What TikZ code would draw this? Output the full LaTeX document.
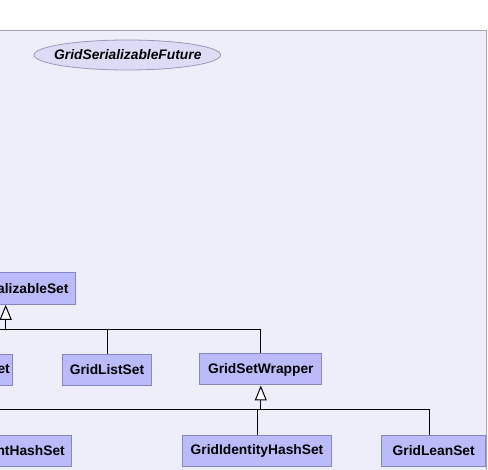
\documentclass[tikz,border=0pt]{standalone}
\usepackage{fontspec}
\setmainfont{Liberation Sans}
\usetikzlibrary{arrows.meta}
\definecolor{pkgfill}{HTML}{EEEEFB}
\definecolor{pkgline}{HTML}{A4A4B4}
\definecolor{clsfill}{HTML}{BBBBFA}
\definecolor{clsline}{HTML}{8585C8}
\definecolor{iffill}{HTML}{DCDCF7}
\definecolor{ifline}{HTML}{9898B8}
\tikzset{
    cls/.style={draw=clsline, fill=clsfill, line width=1pt, minimum height=31pt, inner xsep=7pt, font=\fontsize{13.8}{16}\selectfont\bfseries},
    iface/.style={draw=ifline, fill=iffill, line width=.8pt},
    ifacename/.style={inner sep=0pt, font=\fontsize{13.8}{16}\selectfont\bfseries\itshape},
    link/.style={line width=1pt},
    inherit/.style={line width=1pt, -{Triangle[width=12pt,length=15pt,fill=white]}}
}
\begin{document}
\begin{tikzpicture}[x=1pt,y=-1pt]
    \useasboundingbox (0,0) rectangle (488,470);
    \clip (0,0) rectangle (488,470);

    % package background
    \draw[pkgline, fill=pkgfill, line width=1pt] (-20,30.5) rectangle (486.5,520);

    % interface
    \draw[iface] (127.3,55) ellipse [x radius=93.3, y radius=15];
    \node[ifacename] (sfut) at (127.8,54.5) {GridSerializableFuture};

    % first level
    \node[cls, anchor=east, inner xsep=6.7pt, minimum height=32pt] (sset) at (75.7,288.3) {GridSerializableSet};

    % second level
    \node[cls, anchor=east, inner xsep=3pt] (sklst) at (13.3,369.8) {GridConcurrentSkipListSet};
    \node[cls, minimum width=87.4pt] (lst) at (107,369.8) {GridListSet};
    \node[cls, minimum width=121.7pt] (wrap) at (260.8,369.5) {GridSetWrapper};

    % third level
    \node[cls, anchor=east] (chs) at (72.3,451) {GridConcurrentHashSet};
    \node[cls, minimum width=149.4pt] (ihs) at (257,451.2) {GridIdentityHashSet};
    \node[cls, minimum width=104pt] (lean) at (433.7,451) {GridLeanSet};

    % junctions
    \coordinate (j1) at (5.7,329.3);
    \path (wrap.south) ++(0,24.5) coordinate (j2);

    % generalisations
    \draw[inherit] (j1) -- (j1 |- sset.south);
    \draw[link] (sklst.north) |- (wrap.north |- j1) -- (wrap.north);
    \draw[link] (lst.north) -- (lst.north |- j1);
    \draw[inherit] (j2) -- (wrap.south);
    \draw[link] (chs.north) |- ([xshift=-4.4]lean.north |- j2) -- ([xshift=-4.4]lean.north);
    \draw[link] (ihs.north) -- (ihs.north |- j2);
\end{tikzpicture}
\end{document}
